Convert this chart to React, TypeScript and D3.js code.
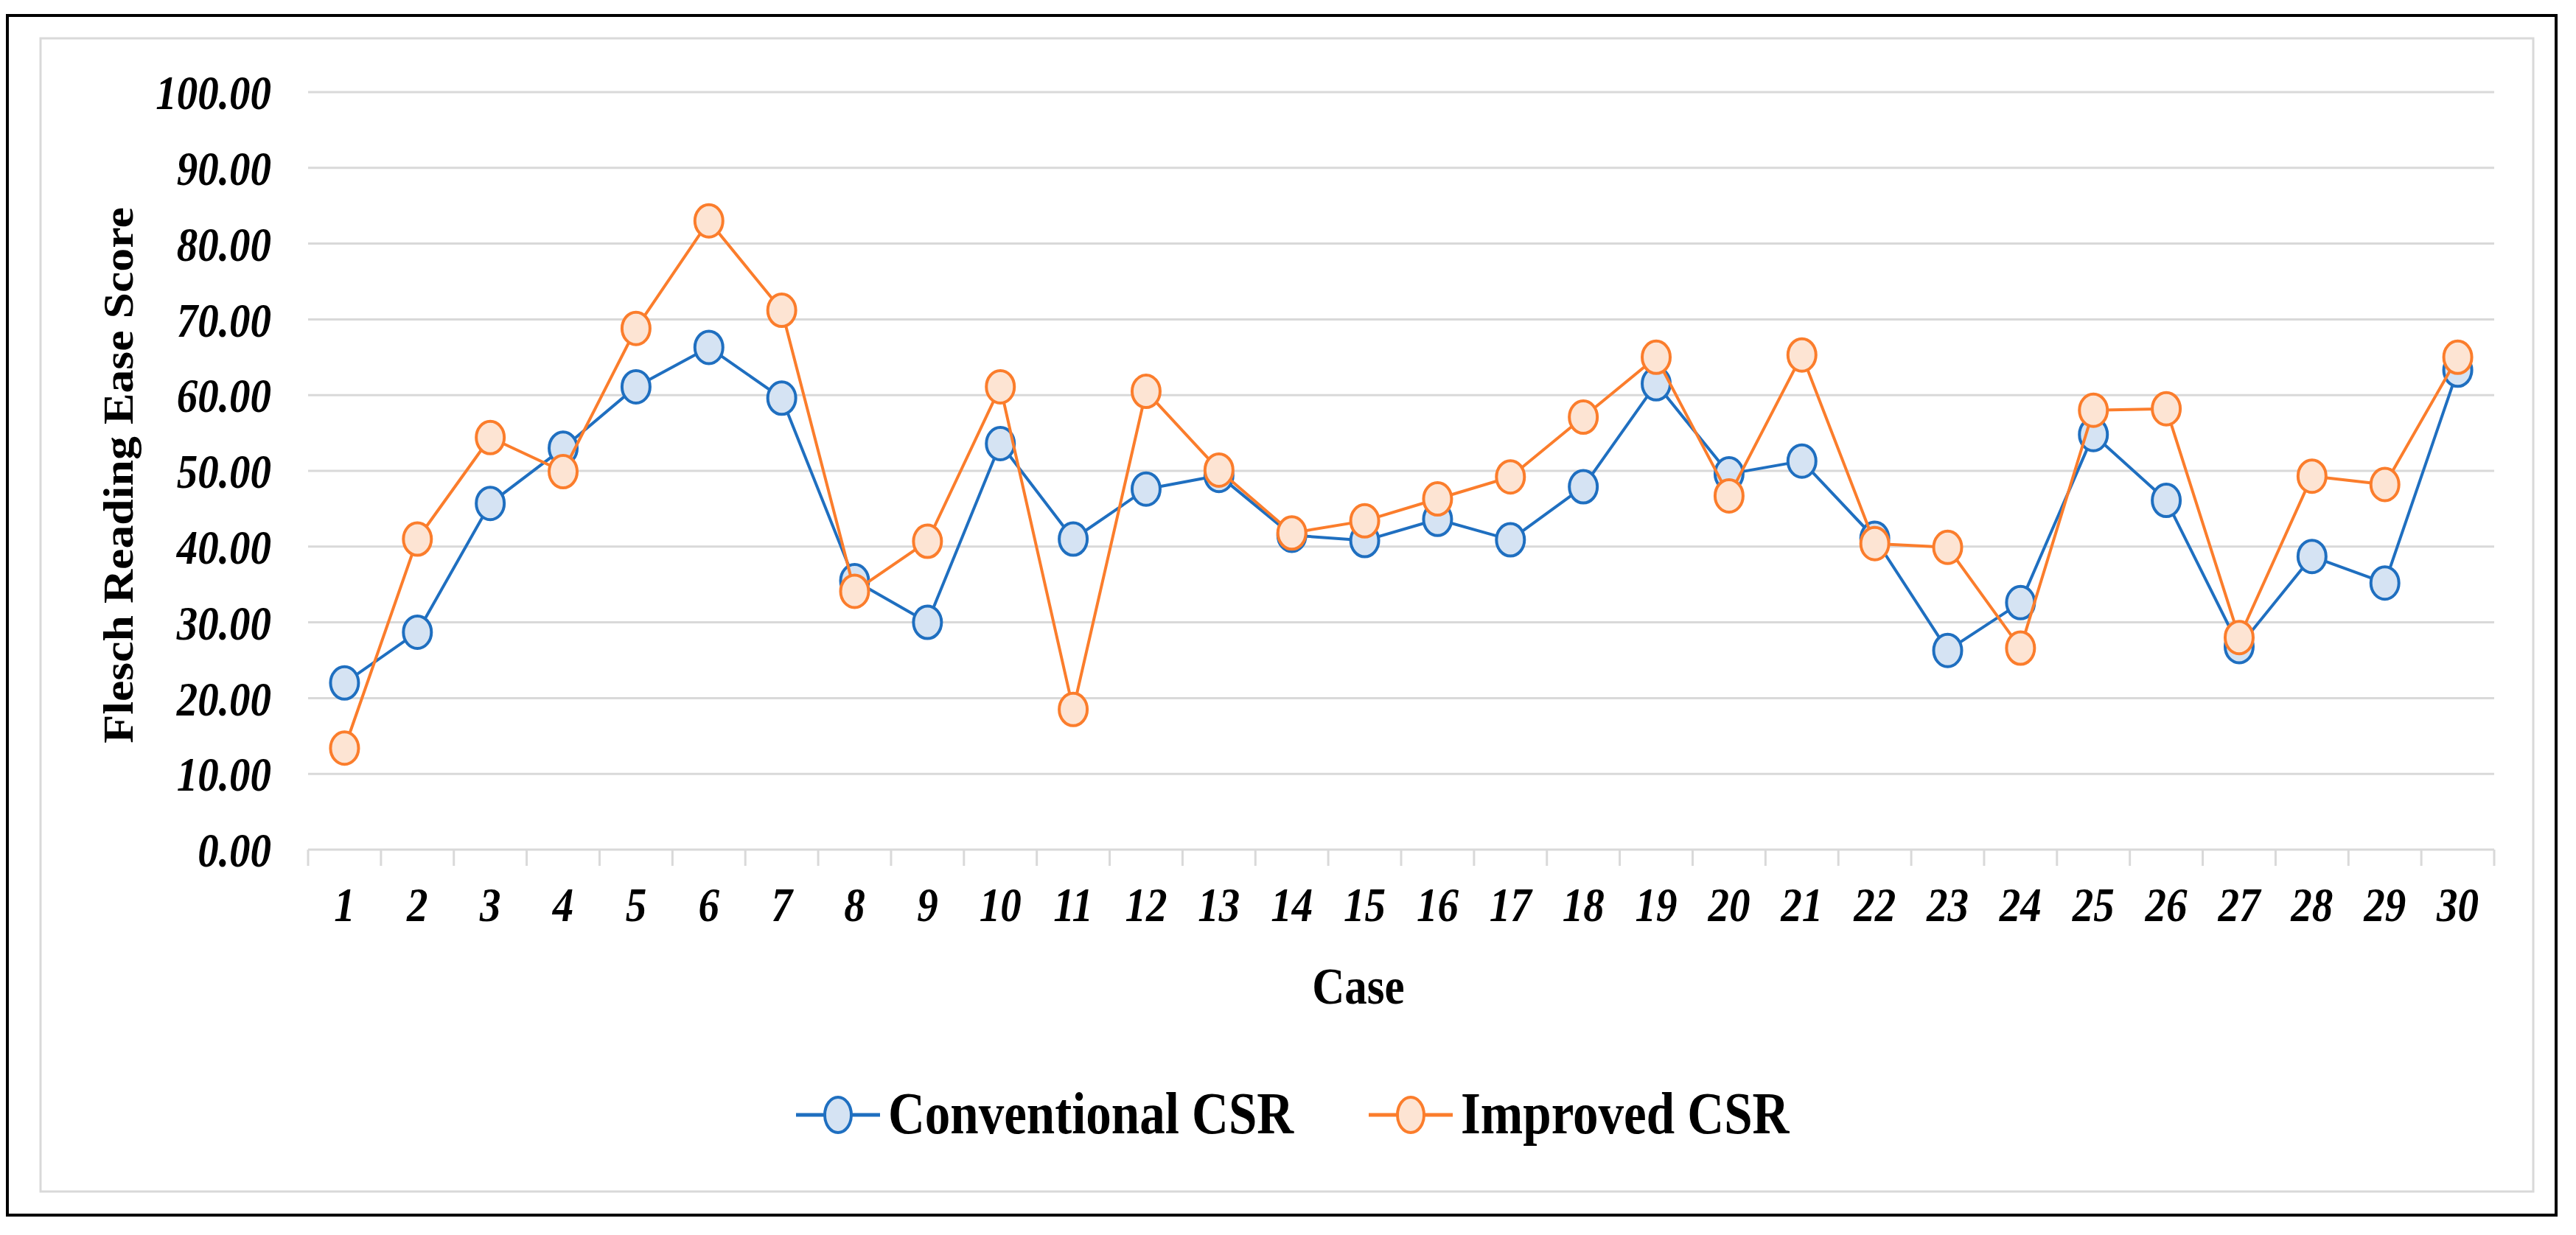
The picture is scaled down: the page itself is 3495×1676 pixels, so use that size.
import React from 'react';
import * as d3 from 'd3';

const cases = ['1', '2', '3', '4', '5', '6', '7', '8', '9', '10', '11', '12', '13', '14', '15',
  '16', '17', '18', '19', '20', '21', '22', '23', '24', '25', '26', '27', '28', '29', '30'];

const conventional = [22.0, 28.7, 45.7, 53.0, 61.1, 66.3, 59.6, 35.5, 30.0, 53.6, 41.0, 47.6, 49.4, 41.5, 40.8,
  43.6, 40.9, 47.9, 61.5, 49.6, 51.3, 41.1, 26.3, 32.6, 54.8, 46.1, 26.8, 38.7, 35.2, 63.3];

const improved = [13.4, 41.0, 54.4, 49.9, 68.8, 83.0, 71.2, 34.1, 40.7, 61.1, 18.5, 60.5, 50.1, 41.8, 43.4,
  46.3, 49.2, 57.1, 65.0, 46.7, 65.3, 40.4, 39.9, 26.6, 58.0, 58.2, 28.0, 49.3, 48.2, 65.0];

const yTicks = [0, 10, 20, 30, 40, 50, 60, 70, 80, 90, 100];

const seriesNames = ['Conventional CSR', 'Improved CSR'];

const W = 3495;
const H = 1676;
const FONT = '"Liberation Serif", "Times New Roman", serif';
// the source picture is stretched a little vertically, so text is too
const STRETCH = 1.16;

const styles = [
  { stroke: '#1F6FC0', fill: '#D5E3F3' },
  { stroke: '#FB7D2C', fill: '#FDE4D3' },
];

const App: React.FC = () => {
  const x = d3.scaleBand<string>().domain(cases).range([418, 3384]);
  const y = d3.scaleLinear().domain([0, 100]).range([1153, 125]);

  const line = d3.line<number>()
    .x((_, i) => (x(cases[i]) ?? 0) + x.bandwidth() / 2)
    .y(d => y(d));

  const series = [conventional, improved];

  const legendItems = [
    { lx: 1080, text: 1205 },
    { lx: 1857, text: 1982 },
  ];

  return (
    <svg width={W} height={H} style={{ position: 'absolute', left: 0, top: 0, background: '#fff' }}>
      <rect x={0} y={0} width={W} height={H} fill="#fff" />
      {/* frames */}
      <rect x={10} y={21} width={3458} height={1628} fill="none" stroke="#000" strokeWidth={4} />
      <rect x={55} y={52} width={3382} height={1565} fill="none" stroke="#D9D9D9" strokeWidth={3} />

      {/* gridlines */}
      {yTicks.filter(t => t > 0).map(t => (
        <line key={t} x1={418} x2={3384} y1={y(t)} y2={y(t)} stroke="#D9D9D9" strokeWidth={3} />
      ))}

      {/* x axis */}
      <line x1={418} x2={3384} y1={y(0)} y2={y(0)} stroke="#D9D9D9" strokeWidth={3} />
      {cases.map(c => (
        <line key={'t' + c} x1={x(c)} x2={x(c)} y1={y(0)} y2={y(0) + 22} stroke="#D9D9D9" strokeWidth={3} />
      ))}
      <line x1={3384} x2={3384} y1={y(0)} y2={y(0) + 22} stroke="#D9D9D9" strokeWidth={3} />

      {/* y tick labels */}
      {yTicks.map(t => (
        <text key={'y' + t} transform={`translate(368, ${y(t)}) scale(1, ${STRETCH})`} dy="0.35em"
          textAnchor="end" fontFamily={FONT} fontWeight="bold" fontStyle="italic" fontSize={57}>
          {t.toFixed(2)}
        </text>
      ))}

      {/* x tick labels */}
      {cases.map(c => (
        <text key={'x' + c} transform={`translate(${(x(c) ?? 0) + x.bandwidth() / 2}, 1250) scale(1, ${STRETCH})`}
          textAnchor="middle" fontFamily={FONT} fontWeight="bold" fontStyle="italic" fontSize={57}>
          {c}
        </text>
      ))}

      {/* axis titles */}
      <text transform={`translate(1843, 1362) scale(1, ${STRETCH})`} textAnchor="middle"
        fontFamily={FONT} fontWeight="bold" fontSize={61}>Case</text>
      <text transform={`translate(180, 645) scale(1, 1.12) rotate(-90)`} textAnchor="middle"
        fontFamily={FONT} fontWeight="bold" fontSize={57}>Flesch Reading Ease Score</text>

      {/* series */}
      {series.map((vals, si) => (
        <g key={si}>
          <path d={line(vals) ?? ''} fill="none" stroke={styles[si].stroke} strokeWidth={4} strokeLinejoin="round" />
          {vals.map((v, i) => (
            <ellipse key={i} cx={(x(cases[i]) ?? 0) + x.bandwidth() / 2} cy={y(v)} rx={19} ry={22}
              fill={styles[si].fill} stroke={styles[si].stroke} strokeWidth={4} />
          ))}
        </g>
      ))}

      {/* legend */}
      {legendItems.map((it, i) => (
        <g key={'l' + i}>
          <line x1={it.lx} x2={it.lx + 114} y1={1513} y2={1513} stroke={styles[i].stroke} strokeWidth={5} />
          <ellipse cx={it.lx + 57} cy={1513} rx={18} ry={24} fill={styles[i].fill} stroke={styles[i].stroke} strokeWidth={4} />
          <text transform={`translate(${it.text}, 1538) scale(1, ${STRETCH})`} fontFamily={FONT}
            fontWeight="bold" fontSize={69}>{seriesNames[i]}</text>
        </g>
      ))}
    </svg>
  );
};

export default App;
